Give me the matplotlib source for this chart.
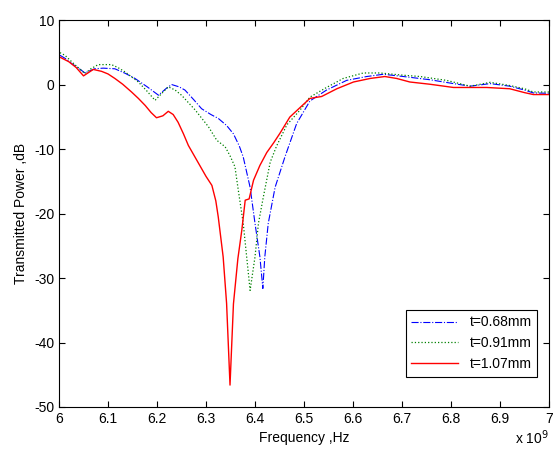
import matplotlib
matplotlib.use('Agg')
import matplotlib.pyplot as plt
import matplotlib.ticker as ptick

plt.rcParams['font.family'] = ['Liberation Sans', 'DejaVu Sans']
plt.rcParams['axes.unicode_minus'] = False

# frequency in units of 1e9 Hz, transmitted power in dB
f_068 = [6.002, 6.015, 6.026, 6.040, 6.053, 6.063, 6.073, 6.090, 6.114, 6.135,
         6.155, 6.180, 6.203, 6.218, 6.230, 6.245, 6.257, 6.275, 6.291, 6.310,
         6.325, 6.342, 6.356, 6.368, 6.376, 6.390, 6.400, 6.410, 6.416, 6.420,
         6.427, 6.441, 6.461, 6.485, 6.512, 6.546, 6.587, 6.628, 6.662, 6.703,
         6.757, 6.805, 6.839, 6.880, 6.920, 6.950, 6.968, 7.0]
p_068 = [4.6, 4.0, 3.3, 2.6, 1.85, 2.2, 2.5, 2.6, 2.5, 1.8,
         1.0, -0.3, -1.6, -0.6, 0.05, -0.3, -0.8, -2.3, -3.7, -4.6,
         -5.2, -6.3, -7.6, -9.5, -11.2, -15.9, -21.5, -26.7, -31.6, -26.7,
         -21.5, -15.9, -11.2, -6.0, -2.5, -0.8, 0.7, 1.3, 1.65, 1.3,
         0.8, 0.2, -0.2, 0.2, -0.2, -0.8, -1.25, -1.3]

f_091 = [6.002, 6.012, 6.030, 6.053, 6.065, 6.080, 6.107, 6.120, 6.135, 6.162,
         6.180, 6.196, 6.210, 6.223, 6.237, 6.250, 6.278, 6.305, 6.322, 6.339,
         6.349, 6.359, 6.366, 6.376, 6.383, 6.390, 6.400, 6.407, 6.417, 6.431,
         6.444, 6.465, 6.492, 6.512, 6.546, 6.580, 6.621, 6.655, 6.703, 6.737,
         6.791, 6.839, 6.860, 6.880, 6.920, 6.950, 6.968, 7.0]
p_091 = [5.0, 4.6, 3.3, 1.75, 2.5, 3.15, 3.15, 2.7, 2.0, 0.45,
         -1.0, -2.4, -1.3, -0.3, -0.8, -1.6, -3.9, -6.5, -8.6, -9.6,
         -11.0, -12.7, -16.4, -21.5, -26.7, -31.9, -26.7, -21.5, -17.4, -12.0,
         -9.5, -6.2, -3.9, -1.9, -0.4, 1.0, 1.85, 1.85, 1.5, 1.3,
         0.7, -0.2, 0.1, 0.4, -0.1, -0.6, -1.1, -1.1]

f_107 = [6.002, 6.020, 6.035, 6.050, 6.060, 6.070, 6.087, 6.100, 6.114, 6.130,
         6.148, 6.162, 6.176, 6.188, 6.199, 6.212, 6.223, 6.233, 6.243, 6.254,
         6.264, 6.276, 6.288, 6.300, 6.312, 6.320, 6.325, 6.335, 6.342, 6.349,
         6.356, 6.365, 6.373, 6.380, 6.388, 6.397, 6.410, 6.424, 6.438, 6.451,
         6.471, 6.495, 6.512, 6.536, 6.567, 6.601, 6.635, 6.665, 6.689, 6.716,
         6.757, 6.805, 6.873, 6.920, 6.950, 6.968, 7.0]
p_107 = [4.3, 3.6, 2.7, 1.4, 1.9, 2.4, 2.1, 1.7, 1.0, 0.1,
         -1.1, -2.1, -3.2, -4.3, -5.1, -4.8, -4.1, -4.6, -5.8, -7.6,
         -9.4, -11.0, -12.6, -14.2, -15.6, -18.0, -20.5, -26.7, -33.9, -46.6,
         -34.0, -27.0, -22.6, -17.9, -17.7, -14.8, -12.5, -10.5, -9.0, -7.5,
         -5.0, -3.3, -2.1, -1.8, -0.6, 0.45, 1.0, 1.3, 1.0, 0.45,
         0.1, -0.4, -0.4, -0.6, -1.2, -1.5, -1.5]

fig = plt.figure(figsize=(5.54, 4.51), dpi=100)
ax = fig.add_axes([0.1065, 0.0976, 0.8845, 0.857])

ax.plot(f_068, p_068, '-.', color='#0000ff', linewidth=0.8, label='t=0.68mm')
ax.plot(f_091, p_091, ':', color='#008000', linewidth=0.9, label='t=0.91mm')
ax.plot(f_107, p_107, '-', color='#ff0000', linewidth=1.0, label='t=1.07mm')

ax.set_xlim(6, 7)
ax.set_ylim(-50, 10)
ax.set_xticks([6 + 0.1 * i for i in range(11)])
ax.set_yticks(range(-50, 11, 10))
ax.xaxis.set_major_formatter(ptick.FormatStrFormatter('%g'))
ax.tick_params(direction='in', top=True, right=True, labelsize=10, length=4)

ax.set_xlabel('Frequency ,Hz', fontsize=10, labelpad=4)
ax.set_ylabel('Transmitted Power ,dB', fontsize=10, labelpad=4)
fig.text(0.93, 0.008, 'x 10$^9$', fontsize=10, ha='left', va='bottom')

leg = ax.legend(loc='lower right', bbox_to_anchor=(0.976, 0.078), fontsize=10,
                handlelength=3.4, fancybox=False, framealpha=1, edgecolor='black',
                borderaxespad=0.)
leg.get_frame().set_linewidth(0.8)

fig.savefig('out.png', dpi=100)
